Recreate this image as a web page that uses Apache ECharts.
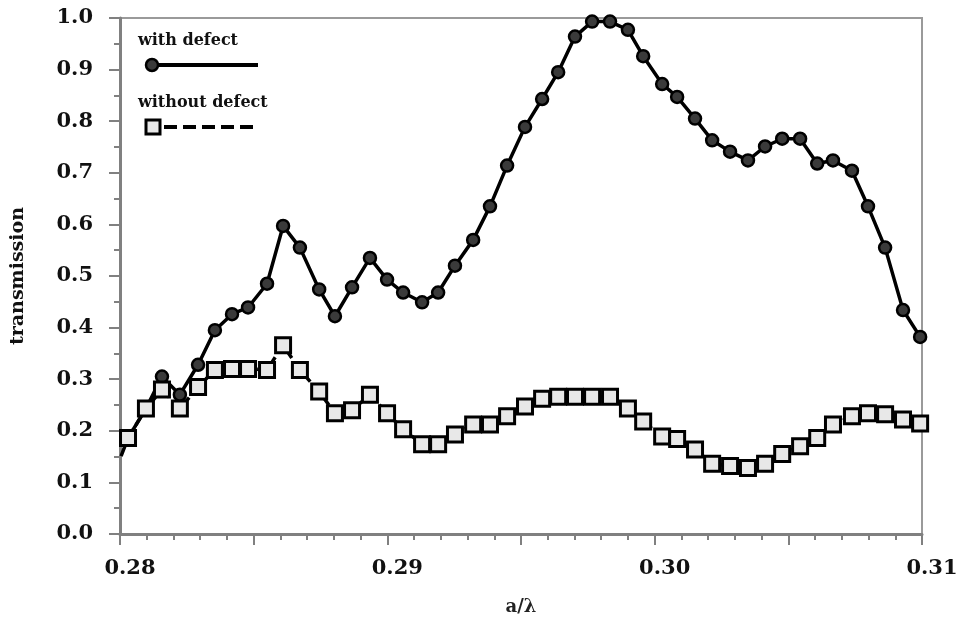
<!DOCTYPE html>
<html>
<head>
<meta charset="utf-8">
<script src="https://cdn.jsdelivr.net/npm/echarts@6/dist/echarts.min.js"></script>
<style>
html, body { margin: 0; background: #fff; }
#chart { width: 961px; height: 621px; }
</style>
</head>
<body>
<div id="chart"></div>
<script>
// normalised frequency a/lambda
const freqs = [
    0.28004, 0.28030, 0.28097, 0.28157, 0.28224, 0.28292, 0.28355, 0.28419, 0.28479, 0.28550,
    0.28610, 0.28673, 0.28745, 0.28804, 0.28868, 0.28935, 0.28999, 0.29059, 0.29130, 0.29190,
    0.29253, 0.29321, 0.29384, 0.29448, 0.29515, 0.29579, 0.29639, 0.29702, 0.29766, 0.29833,
    0.29900, 0.29957, 0.30028, 0.30084, 0.30151, 0.30215, 0.30282, 0.30349, 0.30413, 0.30477,
    0.30544, 0.30608, 0.30667, 0.30738, 0.30798, 0.30862, 0.30929, 0.30993
];

const withDefect = [
    0.151, 0.186, 0.243, 0.305, 0.270, 0.328, 0.395, 0.426, 0.439, 0.485,
    0.597, 0.555, 0.474, 0.422, 0.478, 0.535, 0.493, 0.468, 0.449, 0.468,
    0.520, 0.570, 0.635, 0.714, 0.789, 0.843, 0.895, 0.964, 0.993, 0.993,
    0.977, 0.926, 0.872, 0.847, 0.805, 0.763, 0.741, 0.724, 0.751, 0.766,
    0.766, 0.718, 0.724, 0.704, 0.635, 0.555, 0.434, 0.382
];

// first frequency has no "without defect" sample
const withoutDefect = [
    null, 0.186, 0.243, 0.280, 0.243, 0.285, 0.318, 0.320, 0.320, 0.318,
    0.366, 0.318, 0.276, 0.234, 0.240, 0.270, 0.234, 0.203, 0.174, 0.174,
    0.193, 0.212, 0.212, 0.228, 0.247, 0.262, 0.266, 0.266, 0.266, 0.266,
    0.243, 0.218, 0.189, 0.184, 0.164, 0.136, 0.132, 0.128, 0.136, 0.155,
    0.170, 0.186, 0.212, 0.228, 0.234, 0.232, 0.222, 0.214
];

const seriesNames = ['with defect', 'without defect'];

const fontFamily = '"DejaVu Serif", "Liberation Serif", serif';

const withData = freqs.map((f, i) =>
    i === 0 ? { value: [f, withDefect[i]], symbol: 'none' } : [f, withDefect[i]]);
const withoutData = freqs
    .map((f, i) => [f, withoutDefect[i]])
    .filter(p => p[1] !== null);

const chart = echarts.init(document.getElementById('chart'));
chart.setOption({
    animation: false,
    backgroundColor: '#fff',
    grid: {
        left: 120, right: 39, top: 18, bottom: 82,
        show: true,
        borderColor: '#9a9a9a',
        borderWidth: 2
    },
    xAxis: {
        type: 'value',
        min: 0.28,
        max: 0.31,
        interval: 0.005,
        name: 'a/\u03bb',
        nameLocation: 'middle',
        nameGap: 64,
        nameTextStyle: { fontFamily, fontWeight: 'bold', fontSize: 18, color: '#222' },
        axisLine: { lineStyle: { color: '#808080', width: 3 } },
        axisTick: { length: 11, lineStyle: { color: '#808080', width: 2 } },
        minorTick: { show: true, splitNumber: 5, length: 6, lineStyle: { color: '#808080', width: 2 } },
        splitLine: { show: false },
        axisLabel: {
            margin: 24,
            padding: [0, 0, 0, 20],
            fontFamily, fontWeight: 'bold', fontSize: 21, color: '#111',
            formatter: v => Math.round(v * 1000) % 10 === 0 ? v.toFixed(2) : ''
        }
    },
    yAxis: {
        type: 'value',
        min: 0,
        max: 1,
        interval: 0.1,
        name: 'transmission',
        nameLocation: 'middle',
        nameGap: 92,
        nameTextStyle: { fontFamily, fontWeight: 'bold', fontSize: 19, color: '#111' },
        axisLine: { show: true, lineStyle: { color: '#808080', width: 3 } },
        axisTick: { show: true, length: 11, lineStyle: { color: '#808080', width: 2 } },
        minorTick: { show: true, splitNumber: 2, length: 6, lineStyle: { color: '#808080', width: 2 } },
        splitLine: { show: false },
        axisLabel: {
            margin: 27,
            fontFamily, fontWeight: 'bold', fontSize: 21, color: '#111',
            formatter: v => v.toFixed(1)
        }
    },
    series: [
        {
            name: seriesNames[0],
            type: 'line',
            data: withData,
            symbol: 'circle',
            symbolSize: 12,
            itemStyle: { color: '#3a3a3a', borderColor: '#000', borderWidth: 2.5 },
            lineStyle: { color: '#000', width: 3.5 },
            z: 2
        },
        {
            name: seriesNames[1],
            type: 'line',
            data: withoutData,
            symbol: 'rect',
            symbolSize: 15,
            itemStyle: { color: '#e8e8e8', borderColor: '#000', borderWidth: 3 },
            lineStyle: { color: '#000', width: 3.5, type: [10, 5] },
            z: 3
        }
    ],
    graphic: [
        {
            type: 'text', left: 138, top: 33,
            style: { text: seriesNames[0], font: 'bold 16px ' + fontFamily, fill: '#111' }
        },
        {
            type: 'line', shape: { x1: 150, y1: 65, x2: 258, y2: 65 },
            style: { stroke: '#000', lineWidth: 4 }
        },
        {
            type: 'circle', shape: { cx: 152, cy: 65, r: 6 },
            style: { fill: '#3a3a3a', stroke: '#000', lineWidth: 2.5 }
        },
        {
            type: 'text', left: 138, top: 95,
            style: { text: seriesNames[1], font: 'bold 16px ' + fontFamily, fill: '#111' }
        },
        {
            type: 'line', shape: { x1: 164, y1: 127, x2: 258, y2: 127 },
            style: { stroke: '#000', lineWidth: 4, lineDash: [13, 6] }
        },
        {
            type: 'rect', shape: { x: 146, y: 120, width: 14, height: 14 },
            style: { fill: '#e8e8e8', stroke: '#000', lineWidth: 3 }
        }
    ]
});
</script>
</body>
</html>
